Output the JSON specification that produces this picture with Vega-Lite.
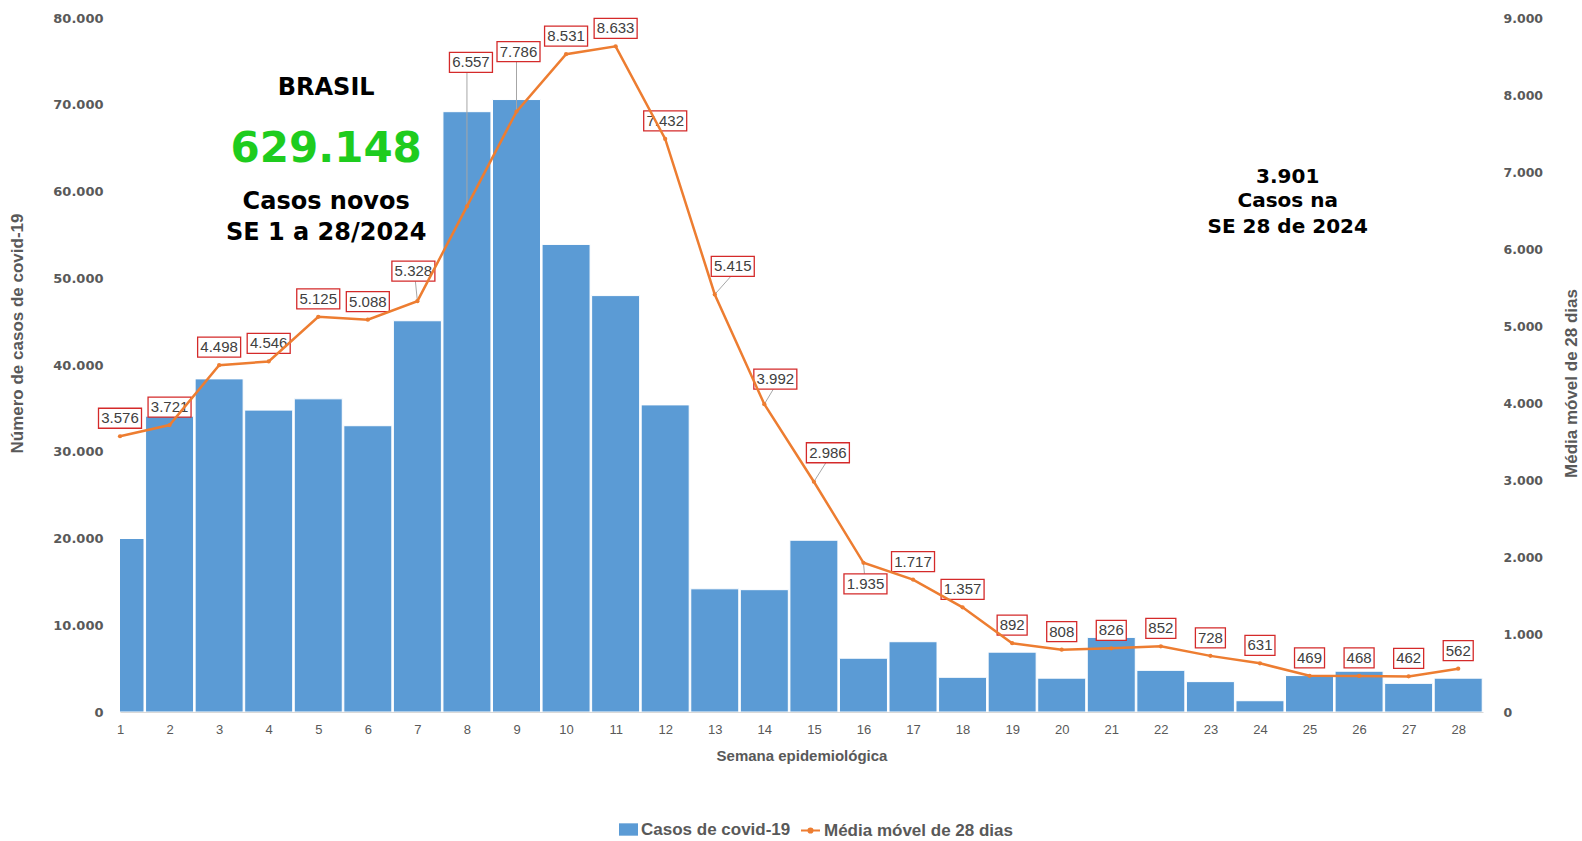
{
  "$schema": "https://vega.github.io/schema/vega-lite/v6.json",
  "width": 1363,
  "height": 694,
  "autosize": {"type": "none"},
  "padding": {"left": 120, "top": 18, "right": 99, "bottom": 129},
  "background": "#ffffff",
  "config": {
    "view": {"stroke": null},
    "locale": {"number": {"decimal": ",", "thousands": ".", "grouping": [3], "currency": ["R$", ""]}},
    "axis": {"grid": false, "ticks": false, "domain": false}
  },
  "datasets": {
    "semanas": [
      {"semana": 1, "casos": 20000, "media": 3576},
      {"semana": 2, "casos": 34100, "media": 3721},
      {"semana": 3, "casos": 38400, "media": 4498},
      {"semana": 4, "casos": 34800, "media": 4546},
      {"semana": 5, "casos": 36100, "media": 5125},
      {"semana": 6, "casos": 33000, "media": 5088},
      {"semana": 7, "casos": 45100, "media": 5328},
      {"semana": 8, "casos": 69200, "media": 6557},
      {"semana": 9, "casos": 70600, "media": 7786},
      {"semana": 10, "casos": 53900, "media": 8531},
      {"semana": 11, "casos": 48000, "media": 8633},
      {"semana": 12, "casos": 35400, "media": 7432},
      {"semana": 13, "casos": 14200, "media": 5415},
      {"semana": 14, "casos": 14100, "media": 3992},
      {"semana": 15, "casos": 19800, "media": 2986},
      {"semana": 16, "casos": 6200, "media": 1935},
      {"semana": 17, "casos": 8100, "media": 1717},
      {"semana": 18, "casos": 4000, "media": 1357},
      {"semana": 19, "casos": 6900, "media": 892},
      {"semana": 20, "casos": 3900, "media": 808},
      {"semana": 21, "casos": 8600, "media": 826},
      {"semana": 22, "casos": 4800, "media": 852},
      {"semana": 23, "casos": 3500, "media": 728},
      {"semana": 24, "casos": 1300, "media": 631},
      {"semana": 25, "casos": 4200, "media": 469},
      {"semana": 26, "casos": 4700, "media": 468},
      {"semana": 27, "casos": 3300, "media": 462},
      {"semana": 28, "casos": 3901, "media": 562}
    ]
  },
  "encoding": {
    "x": {
      "field": "semana",
      "type": "quantitative",
      "scale": {"domain": [1, 28.5], "nice": false, "zero": false, "padding": 0},
      "axis": {
        "values": [1,2,3,4,5,6,7,8,9,10,11,12,13,14,15,16,17,18,19,20,21,22,23,24,25,26,27,28],
        "format": "d",
        "labelFont": "Liberation Sans",
        "labelFontSize": 13,
        "labelColor": "#595959",
        "labelPadding": 11,
        "labelFlush": false,
        "labelOverlap": false,
        "domain": true,
        "domainColor": "#D9D9D9",
        "domainWidth": 1,
        "title": "Semana epidemiológica",
        "titleFont": "Liberation Sans",
        "titleFontSize": 15,
        "titleFontWeight": "bold",
        "titleColor": "#595959",
        "titleY": 43,
        "titleBaseline": "middle"
      }
    }
  },
  "layer": [
    {
      "encoding": {
        "y": {
          "field": "casos",
          "type": "quantitative",
          "scale": {"domain": [0, 80000], "nice": false, "padding": 0},
          "axis": {
            "orient": "left",
            "values": [0, 10000, 20000, 30000, 40000, 50000, 60000, 70000, 80000],
            "format": ",d",
            "labelFont": "DejaVu Sans",
            "labelFontSize": 13,
            "labelFontWeight": "bold",
            "labelColor": "#595959",
            "labelPadding": 17,
            "labelFlush": false,
            "title": "Número de casos de covid-19",
            "titleFont": "Liberation Sans",
            "titleFontSize": 17,
            "titleFontWeight": "bold",
            "titleColor": "#595959",
            "titleX": -103,
            "titleY": 315,
            "titleAngle": 270,
            "titleBaseline": "middle"
          }
        }
      },
      "layer": [
        {
          "data": {"name": "semanas"},
          "mark": {"type": "bar", "width": 48, "clip": true, "stroke": "#ffffff", "strokeWidth": 1},
          "encoding": {
            "fill": {
              "datum": "Casos de covid-19",
              "type": "nominal",
              "scale": {"range": ["#5B9BD5"]},
              "legend": {
                "orient": "none",
                "legendX": 499,
                "legendY": 802,
                "direction": "horizontal",
                "title": null,
                "labelFont": "Liberation Sans",
                "labelFontSize": 17,
                "labelFontWeight": "bold",
                "labelColor": "#595959",
                "labelOffset": 3,
                "labelLimit": 400,
                "symbolType": "M-1,-0.65H1V0.65H-1Z",
                "symbolSize": 361,
                "symbolStrokeWidth": 0,
                "symbolOpacity": 1
              }
            }
          }
        },
        {
          "data": {"values": [
            {"semana": 5.16, "casos": 71900, "texto": "BRASIL"},
            {"semana": 5.16, "casos": 58750, "texto": "Casos novos"},
            {"semana": 5.16, "casos": 55250, "texto": "SE 1 a 28/2024"}
          ]},
          "mark": {"type": "text", "font": "DejaVu Sans", "fontSize": 24, "fontWeight": "bold", "color": "#000000", "align": "center", "baseline": "middle"},
          "encoding": {"text": {"field": "texto"}}
        },
        {
          "data": {"values": [
            {"semana": 5.16, "casos": 64850, "texto": "629.148"}
          ]},
          "mark": {"type": "text", "font": "DejaVu Sans", "fontSize": 42, "fontWeight": "bold", "color": "#1ECC1E", "align": "center", "baseline": "middle"},
          "encoding": {"text": {"field": "texto"}}
        },
        {
          "data": {"values": [
            {"semana": 24.56, "casos": 61700, "texto": "3.901"},
            {"semana": 24.56, "casos": 58850, "texto": "Casos na"},
            {"semana": 24.56, "casos": 55900, "texto": "SE 28 de 2024"}
          ]},
          "mark": {"type": "text", "font": "DejaVu Sans", "fontSize": 20, "fontWeight": "bold", "color": "#000000", "align": "center", "baseline": "middle"},
          "encoding": {"text": {"field": "texto"}}
        }
      ]
    },
    {
      "data": {"name": "semanas"},
      "encoding": {
        "y": {
          "field": "media",
          "type": "quantitative",
          "scale": {"domain": [0, 9000], "nice": false, "padding": 0},
          "axis": {
            "orient": "right",
            "values": [0, 1000, 2000, 3000, 4000, 5000, 6000, 7000, 8000, 9000],
            "format": ",d",
            "labelFont": "DejaVu Sans",
            "labelFontSize": 12.5,
            "labelFontWeight": "bold",
            "labelColor": "#595959",
            "labelPadding": 20,
            "labelAlign": "left",
            "labelFlush": false,
            "title": "Média móvel de 28 dias",
            "titleFont": "Liberation Sans",
            "titleFontSize": 17,
            "titleFontWeight": "bold",
            "titleColor": "#595959",
            "titleX": 88,
            "titleY": 365,
            "titleAngle": 270,
            "titleBaseline": "middle"
          }
        }
      },
      "layer": [
        {
          "transform": [{"filter": "indexof([7, 8, 9, 13, 14, 15, 16], datum.semana) >= 0"}],
          "mark": {
            "type": "rule",
            "color": "#A6A6A6",
            "strokeWidth": 1,
            "x2Offset": {"expr": "datum.semana == 7 ? -2 : datum.semana == 13 ? 16 : datum.semana == 14 ? 9 : datum.semana == 15 ? 12 : datum.semana == 16 ? 1 : 0"},
            "y2Offset": {"expr": "datum.semana == 7 ? -20 : datum.semana == 8 ? -134 : datum.semana == 9 ? -50 : datum.semana == 13 ? -18 : datum.semana == 14 ? -15 : datum.semana == 15 ? -19 : datum.semana == 16 ? 11 : 0"}
          },
          "encoding": {"x2": {"field": "semana"}, "y2": {"field": "media"}}
        },
        {
          "mark": {
            "type": "rect",
            "width": {"expr": "datum.media >= 1000 ? 43 : 30"},
            "height": 20,
            "fill": "#ffffff",
            "stroke": "#D42A2A",
            "strokeWidth": 1.3,
            "xOffset": {"expr": "datum.semana == 7 ? -4 : datum.semana == 8 ? 4 : datum.semana == 9 ? 2 : datum.semana == 13 ? 18 : datum.semana == 14 ? 11 : datum.semana == 15 ? 14 : datum.semana == 16 ? 2 : 0"},
            "yOffset": {"expr": "datum.semana == 7 ? -30 : datum.semana == 8 ? -144 : datum.semana == 9 ? -60 : datum.semana == 13 ? -28 : datum.semana == 14 ? -25 : datum.semana == 15 ? -29 : datum.semana == 16 ? 21 : -18"}
          },
          "encoding": {}
        },
        {
          "mark": {
            "type": "text",
            "font": "Liberation Sans",
            "fontSize": 15,
            "color": "#404040",
            "align": "center",
            "baseline": "middle",
            "dx": {"expr": "datum.semana == 7 ? -4 : datum.semana == 8 ? 4 : datum.semana == 9 ? 2 : datum.semana == 13 ? 18 : datum.semana == 14 ? 11 : datum.semana == 15 ? 14 : datum.semana == 16 ? 2 : 0"},
            "dy": {"expr": "datum.semana == 7 ? -30 : datum.semana == 8 ? -144 : datum.semana == 9 ? -60 : datum.semana == 13 ? -28 : datum.semana == 14 ? -25 : datum.semana == 15 ? -29 : datum.semana == 16 ? 21 : -18"}
          },
          "encoding": {"text": {"field": "media", "type": "quantitative", "format": ",d"}}
        },
        {
          "mark": {"type": "line", "strokeWidth": 2.5, "interpolate": "linear"},
          "encoding": {
            "stroke": {
              "datum": "Média móvel de 28 dias",
              "type": "nominal",
              "scale": {"range": ["#ED7D31"]},
              "legend": {
                "orient": "none",
                "legendX": 680,
                "legendY": 802,
                "direction": "horizontal",
                "title": null,
                "labelFont": "Liberation Sans",
                "labelFontSize": 17,
                "labelFontWeight": "bold",
                "labelColor": "#595959",
                "labelOffset": 3,
                "labelLimit": 400,
                "symbolType": "M-1,0H1M-0.22,0A0.22,0.22 0 1 0 0.22,0A0.22,0.22 0 1 0 -0.22,0",
                "symbolSize": 361,
                "symbolStrokeWidth": 2,
                "symbolFillColor": "#ED7D31",
                "symbolOpacity": 1
              }
            }
          }
        },
        {
          "mark": {"type": "point", "filled": true, "size": 18, "color": "#ED7D31", "opacity": 1},
          "encoding": {}
        }
      ]
    }
  ],
  "resolve": {"scale": {"y": "independent"}}
}
